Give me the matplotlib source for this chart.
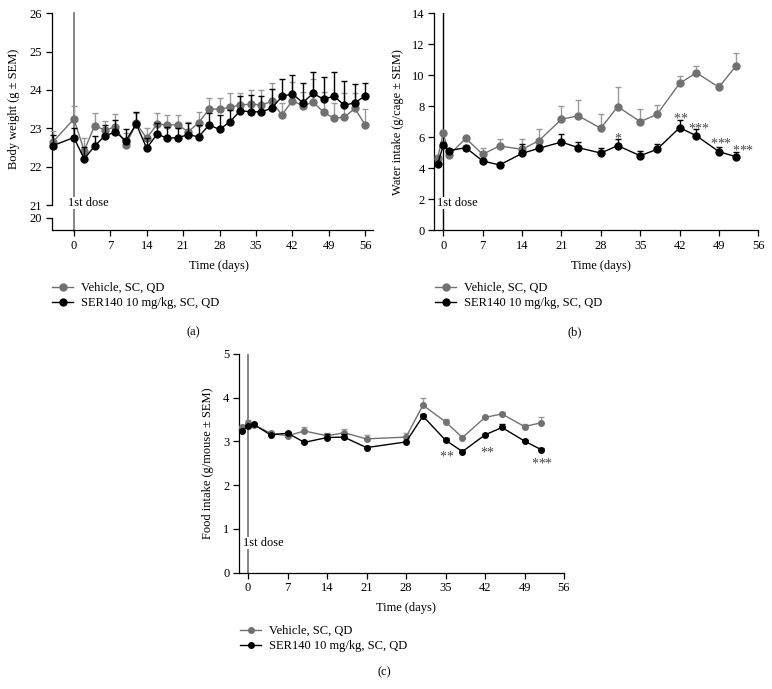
import matplotlib
matplotlib.use('Agg')
import matplotlib.pyplot as plt
from matplotlib.lines import Line2D
import numpy as np

plt.rcParams['font.family'] = ['Liberation Serif', 'DejaVu Serif']
plt.rcParams['font.size'] = 9

# (a) body weight
days_bw = [-4, 0, 2, 4, 6, 8, 10, 12, 14, 16, 18, 20, 22, 24, 26, 28, 30, 32, 34, 36,
           38, 40, 42, 44, 46, 48, 50, 52, 54, 56]
veh_bw = [22.65, 23.24, 22.42, 23.07, 22.95, 23.04, 22.57, 23.13, 22.74, 23.11,
          23.09, 23.09, 22.91, 23.15, 23.50, 23.50, 23.55, 23.61, 23.63, 23.61,
          23.70, 23.35, 23.72, 23.59, 23.68, 23.42, 23.26, 23.29, 23.52, 23.09]
veh_bw_err = [0.28, 0.35, 0.32, 0.33, 0.25, 0.33, 0.30, 0.28, 0.28, 0.30,
              0.25, 0.27, 0.25, 0.27, 0.30, 0.30, 0.36, 0.32, 0.37, 0.39,
              0.47, 0.30, 0.50, 0.35, 0.60, 0.54, 0.40, 0.62, 0.40, 0.41]
ser_bw = [22.55, 22.76, 22.20, 22.54, 22.81, 22.90, 22.68, 23.11, 22.48, 22.85,
          22.74, 22.76, 22.83, 22.78, 23.09, 22.97, 23.17, 23.46, 23.43, 23.43,
          23.52, 23.83, 23.90, 23.67, 23.91, 23.76, 23.84, 23.60, 23.67, 23.84]
ser_bw_err = [0.28, 0.26, 0.30, 0.27, 0.28, 0.32, 0.30, 0.32, 0.27, 0.30,
              0.30, 0.25, 0.32, 0.30, 0.30, 0.38, 0.30, 0.37, 0.44, 0.40,
              0.50, 0.46, 0.49, 0.52, 0.55, 0.57, 0.62, 0.64, 0.49, 0.35]

# (b) water intake
days_w = [-1, 0, 1, 4, 7, 10, 14, 17, 21, 24, 28, 31, 35, 38, 42, 45, 49, 52]
veh_w = [4.63, 6.29, 4.84, 5.92, 4.89, 5.43, 5.21, 5.77, 7.15, 7.38, 6.57, 7.97,
         7.0, 7.47, 9.47, 10.16, 9.22, 10.59]
veh_w_err = [0.15, 0.2, 0.15, 0.1, 0.39, 0.45, 0.67, 0.73, 0.88, 1.0, 0.9, 1.25,
             0.82, 0.6, 0.48, 0.43, 0.3, 0.82]
ser_w = [4.26, 5.49, 5.12, 5.32, 4.46, 4.20, 4.95, 5.28, 5.68, 5.32, 4.97, 5.45,
         4.8, 5.21, 6.61, 6.09, 5.06, 4.74]
ser_w_err = [0.1, 0.15, 0.1, 0.1, 0.1, 0.1, 0.61, 0.2, 0.54, 0.34, 0.33, 0.41,
             0.32, 0.35, 0.49, 0.41, 0.28, 0.28]
stars_w_x = [31, 42.1, 45.3, 49.3, 53.2]
stars_w_y = [6.14, 7.49, 6.83, 5.86, 5.38]
stars_w = [1, 2, 3, 3, 3]

# (c) food intake
days_f = [-1, 0, 1, 4, 7, 10, 14, 17, 21, 28, 31, 35, 38, 42, 45, 49, 52]
veh_f = [3.32, 3.43, 3.38, 3.19, 3.13, 3.24, 3.13, 3.20, 3.06, 3.10, 3.83, 3.45,
         3.09, 3.55, 3.63, 3.34, 3.43]
veh_f_err = [0.04, 0.05, 0.03, 0.03, 0.03, 0.08, 0.07, 0.08, 0.09, 0.1, 0.17, 0.06,
             0.03, 0.04, 0.05, 0.06, 0.12]
ser_f = [3.24, 3.35, 3.39, 3.15, 3.19, 2.98, 3.09, 3.10, 2.86, 2.99, 3.58, 3.03,
         2.77, 3.15, 3.32, 3.01, 2.81]
ser_f_err = [0.03, 0.03, 0.03, 0.03, 0.03, 0.03, 0.08, 0.06, 0.03, 0.03, 0.05, 0.05,
             0.03, 0.03, 0.07, 0.03, 0.03]
stars_f_x = [35.2, 42.3, 52]
stars_f_y = [2.75, 2.84, 2.58]
stars_f = [2, 2, 3]

xticks = [0, 7, 14, 21, 28, 35, 42, 49, 56]
labels = ['Vehicle, SC, QD', 'SER140 10 mg/kg, SC, QD']

GRAY = '#717171'
GRAY_ERR = '#9a9a9a'
STAR = '#484848'

W, H = 772, 689
fig = plt.figure(figsize=(W / 100, H / 100), dpi=100)


def rect(x0, y0, x1, y1):
    # pixel box (origin top-left) -> figure fraction
    return [x0 / W, 1 - y1 / H, (x1 - x0) / W, (y1 - y0) / H]


def style(ax):
    ax.spines['top'].set_visible(False)
    ax.spines['right'].set_visible(False)
    ax.spines['left'].set_linewidth(0.9)
    ax.spines['bottom'].set_linewidth(0.9)
    ax.tick_params(direction='out', length=4, width=0.9, pad=3, labelsize=9)
    ax.patch.set_alpha(0)


def series(ax, x, y, err, color, ecolor, ms, z):
    ax.errorbar(x, y, yerr=[np.zeros(len(err)), err], color=color, ecolor=ecolor,
                marker='o', ms=ms, lw=1.0, elinewidth=1.0, capsize=2.5,
                capthick=1.0, zorder=z, clip_on=False)


def legend(x0, y0, ms):
    h = [Line2D([], [], color=GRAY, marker='o', ms=ms, lw=1.0),
         Line2D([], [], color='black', marker='o', ms=ms, lw=1.0)]
    fig.legend(h, labels, loc='upper left', bbox_to_anchor=(x0 / W, 1 - y0 / H),
               frameon=False, borderpad=0, borderaxespad=0, handlelength=1.7,
               handletextpad=0.6, labelspacing=0.25, fontsize=9)


def stars(ax, xs, ys, ns):
    # spaced asterisks, about 7 px apart
    for x, y, n in zip(xs, ys, ns):
        for i in range(n):
            dx = (i - (n - 1) / 2) * 4.8
            ax.annotate('*', (x, y), xytext=(dx, -5.8), textcoords='offset points',
                        ha='center', va='baseline', color=STAR, fontsize=10)


# ---- panel (a): broken y axis ----
ax_a = fig.add_axes(rect(52, 13.3, 373, 205))
ax_a2 = fig.add_axes(rect(52, 218, 373, 230.5), sharex=ax_a)
for a in (ax_a, ax_a2):
    style(a)
ax_a.spines['bottom'].set_visible(False)
ax_a.tick_params(axis='x', bottom=False, labelbottom=False)
ax_a.set_xlim(-4.2, 57.5)
ax_a.set_ylim(21, 26)
ax_a.set_yticks([21, 22, 23, 24, 25, 26])
ax_a2.set_ylim(19.65, 20)
ax_a2.set_yticks([20])
ax_a2.set_xticks(xticks)
ax_a.axvline(0, ymin=-25.5 / 191.7, ymax=1, color=GRAY, lw=1.2, clip_on=False, zorder=1)
ax_a.text(-1.15, 21.05, '1st dose', ha='left', va='center', zorder=2,
          bbox=dict(facecolor='white', edgecolor='none', pad=0))
series(ax_a, days_bw, veh_bw, veh_bw_err, GRAY, GRAY_ERR, 5, 3)
series(ax_a, days_bw, ser_bw, ser_bw_err, 'black', 'black', 5, 4)
ax_a.set_ylabel('Body weight (g ± SEM)')
ax_a.yaxis.set_label_coords(-0.0997, 0.5)
ax_a2.set_xlabel('Time (days)')
ax_a2.xaxis.set_label_coords((219 - 52) / 321, (230.5 - 260) / 12.5)
legend(52, 282, 5)
fig.text(193 / W, 1 - 332 / H, '(a)', ha='center', va='center')

# ---- panel (b) ----
ax_b = fig.add_axes(rect(434.3, 13.3, 758.3, 230))
style(ax_b)
ax_b.set_xlim(-1.6, 56)
ax_b.set_ylim(0, 14)
ax_b.set_xticks(xticks)
ax_b.set_yticks(range(0, 15, 2))
ax_b.axvline(0, color='black', lw=1.0, zorder=1)
ax_b.text(-1.2, 1.74, '1st dose', ha='left', va='center', zorder=2,
          bbox=dict(facecolor='white', edgecolor='none', pad=0))
series(ax_b, days_w, veh_w, veh_w_err, GRAY, GRAY_ERR, 5, 3)
series(ax_b, days_w, ser_w, ser_w_err, 'black', 'black', 5, 4)
stars(ax_b, stars_w_x, stars_w_y, stars_w)
ax_b.set_ylabel('Water intake (g/cage ± SEM)')
ax_b.yaxis.set_label_coords(-0.0935, 0.5)
ax_b.set_xlabel('Time (days)')
ax_b.xaxis.set_label_coords(0.514, -0.138)
legend(435, 282, 5)
fig.text(575 / W, 1 - 332 / H, '(b)', ha='center', va='center')

# ---- panel (c) ----
ax_c = fig.add_axes(rect(239, 354, 564, 572.7))
style(ax_c)
ax_c.set_xlim(-1.6, 56)
ax_c.set_ylim(0, 5)
ax_c.set_xticks(xticks)
ax_c.set_yticks(range(0, 6))
ax_c.axvline(0, color=GRAY, lw=1.2, zorder=1)
ax_c.text(-0.9, 0.68, '1st dose', ha='left', va='center', zorder=2,
          bbox=dict(facecolor='white', edgecolor='none', pad=0))
series(ax_c, days_f, veh_f, veh_f_err, GRAY, GRAY_ERR, 4, 3)
series(ax_c, days_f, ser_f, ser_f_err, 'black', 'black', 4, 4)
stars(ax_c, stars_f_x, stars_f_y, stars_f)
ax_c.set_ylabel('Food intake (g/mouse ± SEM)')
ax_c.yaxis.set_label_coords(-0.077, 0.5)
ax_c.set_xlabel('Time (days)')
ax_c.xaxis.set_label_coords(0.513, -0.134)
legend(240, 625, 4)
fig.text(384 / W, 1 - 672 / H, '(c)', ha='center', va='center')

fig.savefig('out.png', dpi=100, facecolor='white')
